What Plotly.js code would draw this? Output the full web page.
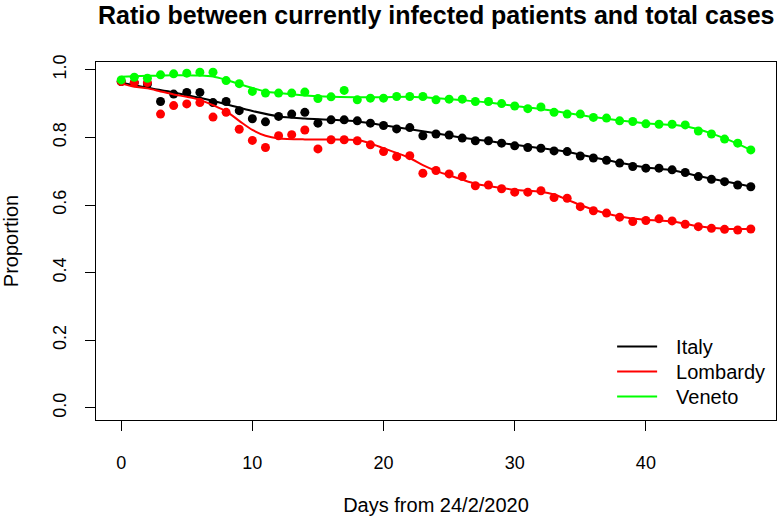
<!DOCTYPE html>
<html>
<head>
<meta charset="utf-8">
<script src="https://cdn.plot.ly/plotly-3.0.1.min.js"></script>
<style>
  html, body { margin: 0; padding: 0; background: #fff; }
  #chart { width: 779px; height: 523px; }
</style>
</head>
<body>
<div id="chart"></div>
<script>
// days since 24/2/2020
const days = [
  0, 1, 2, 3, 4, 5, 6, 7, 8, 9, 10, 11, 12, 13, 14, 15, 16, 17, 18, 19, 20, 21, 22, 23, 24,
  25, 26, 27, 28, 29, 30, 31, 32, 33, 34, 35, 36, 37, 38, 39, 40, 41, 42, 43, 44, 45, 46, 47, 48
];

const italyObs = [
  0.965, 0.962, 0.958, 0.906, 0.928, 0.933, 0.933, 0.903, 0.906, 0.879, 0.855, 0.846, 0.862,
  0.869, 0.874, 0.842, 0.852, 0.852, 0.849, 0.842, 0.835, 0.825, 0.829, 0.805, 0.810, 0.807,
  0.798, 0.790, 0.790, 0.783, 0.775, 0.770, 0.768, 0.760, 0.758, 0.745, 0.739, 0.732, 0.724,
  0.714, 0.709, 0.709, 0.704, 0.696, 0.684, 0.676, 0.669, 0.659, 0.654
];
const lombardyObs = [
  0.965, 0.962, 0.962, 0.869, 0.894, 0.899, 0.903, 0.860, 0.874, 0.824, 0.791, 0.770, 0.805,
  0.808, 0.822, 0.766, 0.793, 0.793, 0.790, 0.778, 0.758, 0.743, 0.746, 0.694, 0.702, 0.692,
  0.684, 0.657, 0.659, 0.648, 0.638, 0.638, 0.642, 0.622, 0.620, 0.595, 0.583, 0.576, 0.564,
  0.551, 0.554, 0.559, 0.553, 0.543, 0.536, 0.531, 0.528, 0.526, 0.529
];
const venetoObs = [
  0.970, 0.978, 0.975, 0.985, 0.988, 0.990, 0.993, 0.993, 0.968, 0.959, 0.936, 0.931, 0.931,
  0.931, 0.934, 0.915, 0.920, 0.939, 0.911, 0.916, 0.916, 0.921, 0.921, 0.921, 0.911, 0.913,
  0.913, 0.906, 0.906, 0.900, 0.893, 0.885, 0.890, 0.874, 0.869, 0.869, 0.859, 0.857, 0.849,
  0.847, 0.840, 0.839, 0.839, 0.837, 0.819, 0.810, 0.795, 0.783, 0.763
];

// smoothed curves (at a few days)
const italyFitDays = [0, 2, 4, 6, 8, 10, 12, 14, 16, 18, 20, 22, 24, 26, 28, 30, 32, 34, 36, 38, 40, 42, 44, 46, 48];
const italyFit = [
  0.962, 0.947, 0.933, 0.917, 0.898, 0.878, 0.862, 0.856, 0.852, 0.847, 0.836, 0.824, 0.812,
  0.799, 0.789, 0.778, 0.768, 0.757, 0.741, 0.725, 0.711, 0.703, 0.686, 0.670, 0.655
];
const lombardyFitDays = [
  0, 1, 2, 3, 4, 5, 6, 7, 8, 9, 10, 11, 12, 14, 16, 18, 19, 20, 21, 22, 23, 24, 25, 26, 27,
  28, 30, 32, 33, 34, 35, 36, 38, 40, 42, 44, 46, 48
];
const lombardyFit = [
  0.959, 0.950, 0.945, 0.936, 0.927, 0.920, 0.911, 0.895, 0.877, 0.849, 0.822, 0.805, 0.797,
  0.794, 0.794, 0.792, 0.782, 0.768, 0.754, 0.739, 0.718, 0.701, 0.688, 0.675, 0.663, 0.656,
  0.645, 0.639, 0.631, 0.616, 0.600, 0.586, 0.566, 0.556, 0.551, 0.537, 0.530, 0.529
];
const venetoFitDays = [
  0, 2, 4, 6, 7, 8, 9, 10, 11, 12, 14, 16, 18, 20, 22, 24, 26, 28, 30, 32, 34, 36, 38, 40,
  42, 43, 44, 45, 46, 47, 48
];
const venetoFit = [
  0.979, 0.982, 0.984, 0.983, 0.980, 0.970, 0.958, 0.946, 0.936, 0.931, 0.924, 0.920, 0.919,
  0.919, 0.920, 0.916, 0.910, 0.903, 0.893, 0.884, 0.872, 0.860, 0.850, 0.842, 0.837, 0.833,
  0.824, 0.812, 0.797, 0.781, 0.763
];

const series = [
  { name: 'Italy', color: '#000000', obs: italyObs, fitX: italyFitDays, fitY: italyFit, legend: 'legend' },
  { name: 'Lombardy', color: '#ff0000', obs: lombardyObs, fitX: lombardyFitDays, fitY: lombardyFit, legend: 'legend2' },
  { name: 'Veneto', color: '#00ff00', obs: venetoObs, fitX: venetoFitDays, fitY: venetoFit, legend: 'legend3' }
];

const FONT = 'Liberation Sans, Arial, Helvetica, sans-serif';
// gap between legend line sample and its label, like R's legend()
const LEGEND_PAD = '\u2002\u2009';

const data = [];
series.forEach(s => {
  data.push({
    x: days,
    y: s.obs,
    type: 'scatter',
    mode: 'markers',
    marker: { color: s.color, size: 9 },
    showlegend: false,
    hoverinfo: 'skip'
  });
  data.push({
    x: s.fitX,
    y: s.fitY,
    type: 'scatter',
    mode: 'lines',
    name: LEGEND_PAD + s.name,
    legend: s.legend,
    line: { color: s.color, width: 2, shape: 'spline', smoothing: 0.8 }
  });
});

const axisCommon = {
  showgrid: false,
  zeroline: false,
  showline: true,
  mirror: true,
  linecolor: '#000',
  linewidth: 1,
  ticks: 'outside',
  ticklen: 10,
  tickcolor: '#000',
  tickfont: { family: FONT, size: 18, color: '#000' }
};

// one legend box per row so the rows sit as tight as in R
const legendBox = y => ({
  x: 0.759,
  y: y,
  xanchor: 'left',
  yanchor: 'top',
  bgcolor: 'rgba(0,0,0,0)',
  borderwidth: 0,
  itemwidth: 40,
  font: { family: FONT, size: 20, color: '#000' }
});

const layout = {
  width: 779,
  height: 523,
  paper_bgcolor: '#fff',
  plot_bgcolor: '#fff',
  font: { family: FONT, color: '#000' },
  margin: { l: 96, r: 3, t: 62, b: 103 },
  title: {
    text: '<b>Ratio between currently infected patients and total cases</b>',
    font: { family: FONT, size: 25, color: '#000' },
    x: 0.56,
    xanchor: 'center',
    y: 0.971,
    yanchor: 'middle'
  },
  xaxis: Object.assign({}, axisCommon, {
    range: [-1.92, 49.92],
    tickvals: [0, 10, 20, 30, 40],
    ticklabelstandoff: 16,
    title: { text: 'Days from 24/2/2020', font: { family: FONT, size: 20 }, standoff: 26 }
  }),
  yaxis: Object.assign({}, axisCommon, {
    range: [-0.036, 1.023],
    tickvals: [0, 0.2, 0.4, 0.6, 0.8, 1.0],
    tickformat: '.1f',
    tickangle: -90,
    ticklabelstandoff: 12,
    title: { text: 'Proportion', font: { family: FONT, size: 20 }, standoff: 28 }
  }),
  legend: legendBox(0.260),
  legend2: legendBox(0.190),
  legend3: legendBox(0.120),
  showlegend: true
};

Plotly.newPlot('chart', data, layout, { displayModeBar: false, staticPlot: true });
</script>
</body>
</html>
